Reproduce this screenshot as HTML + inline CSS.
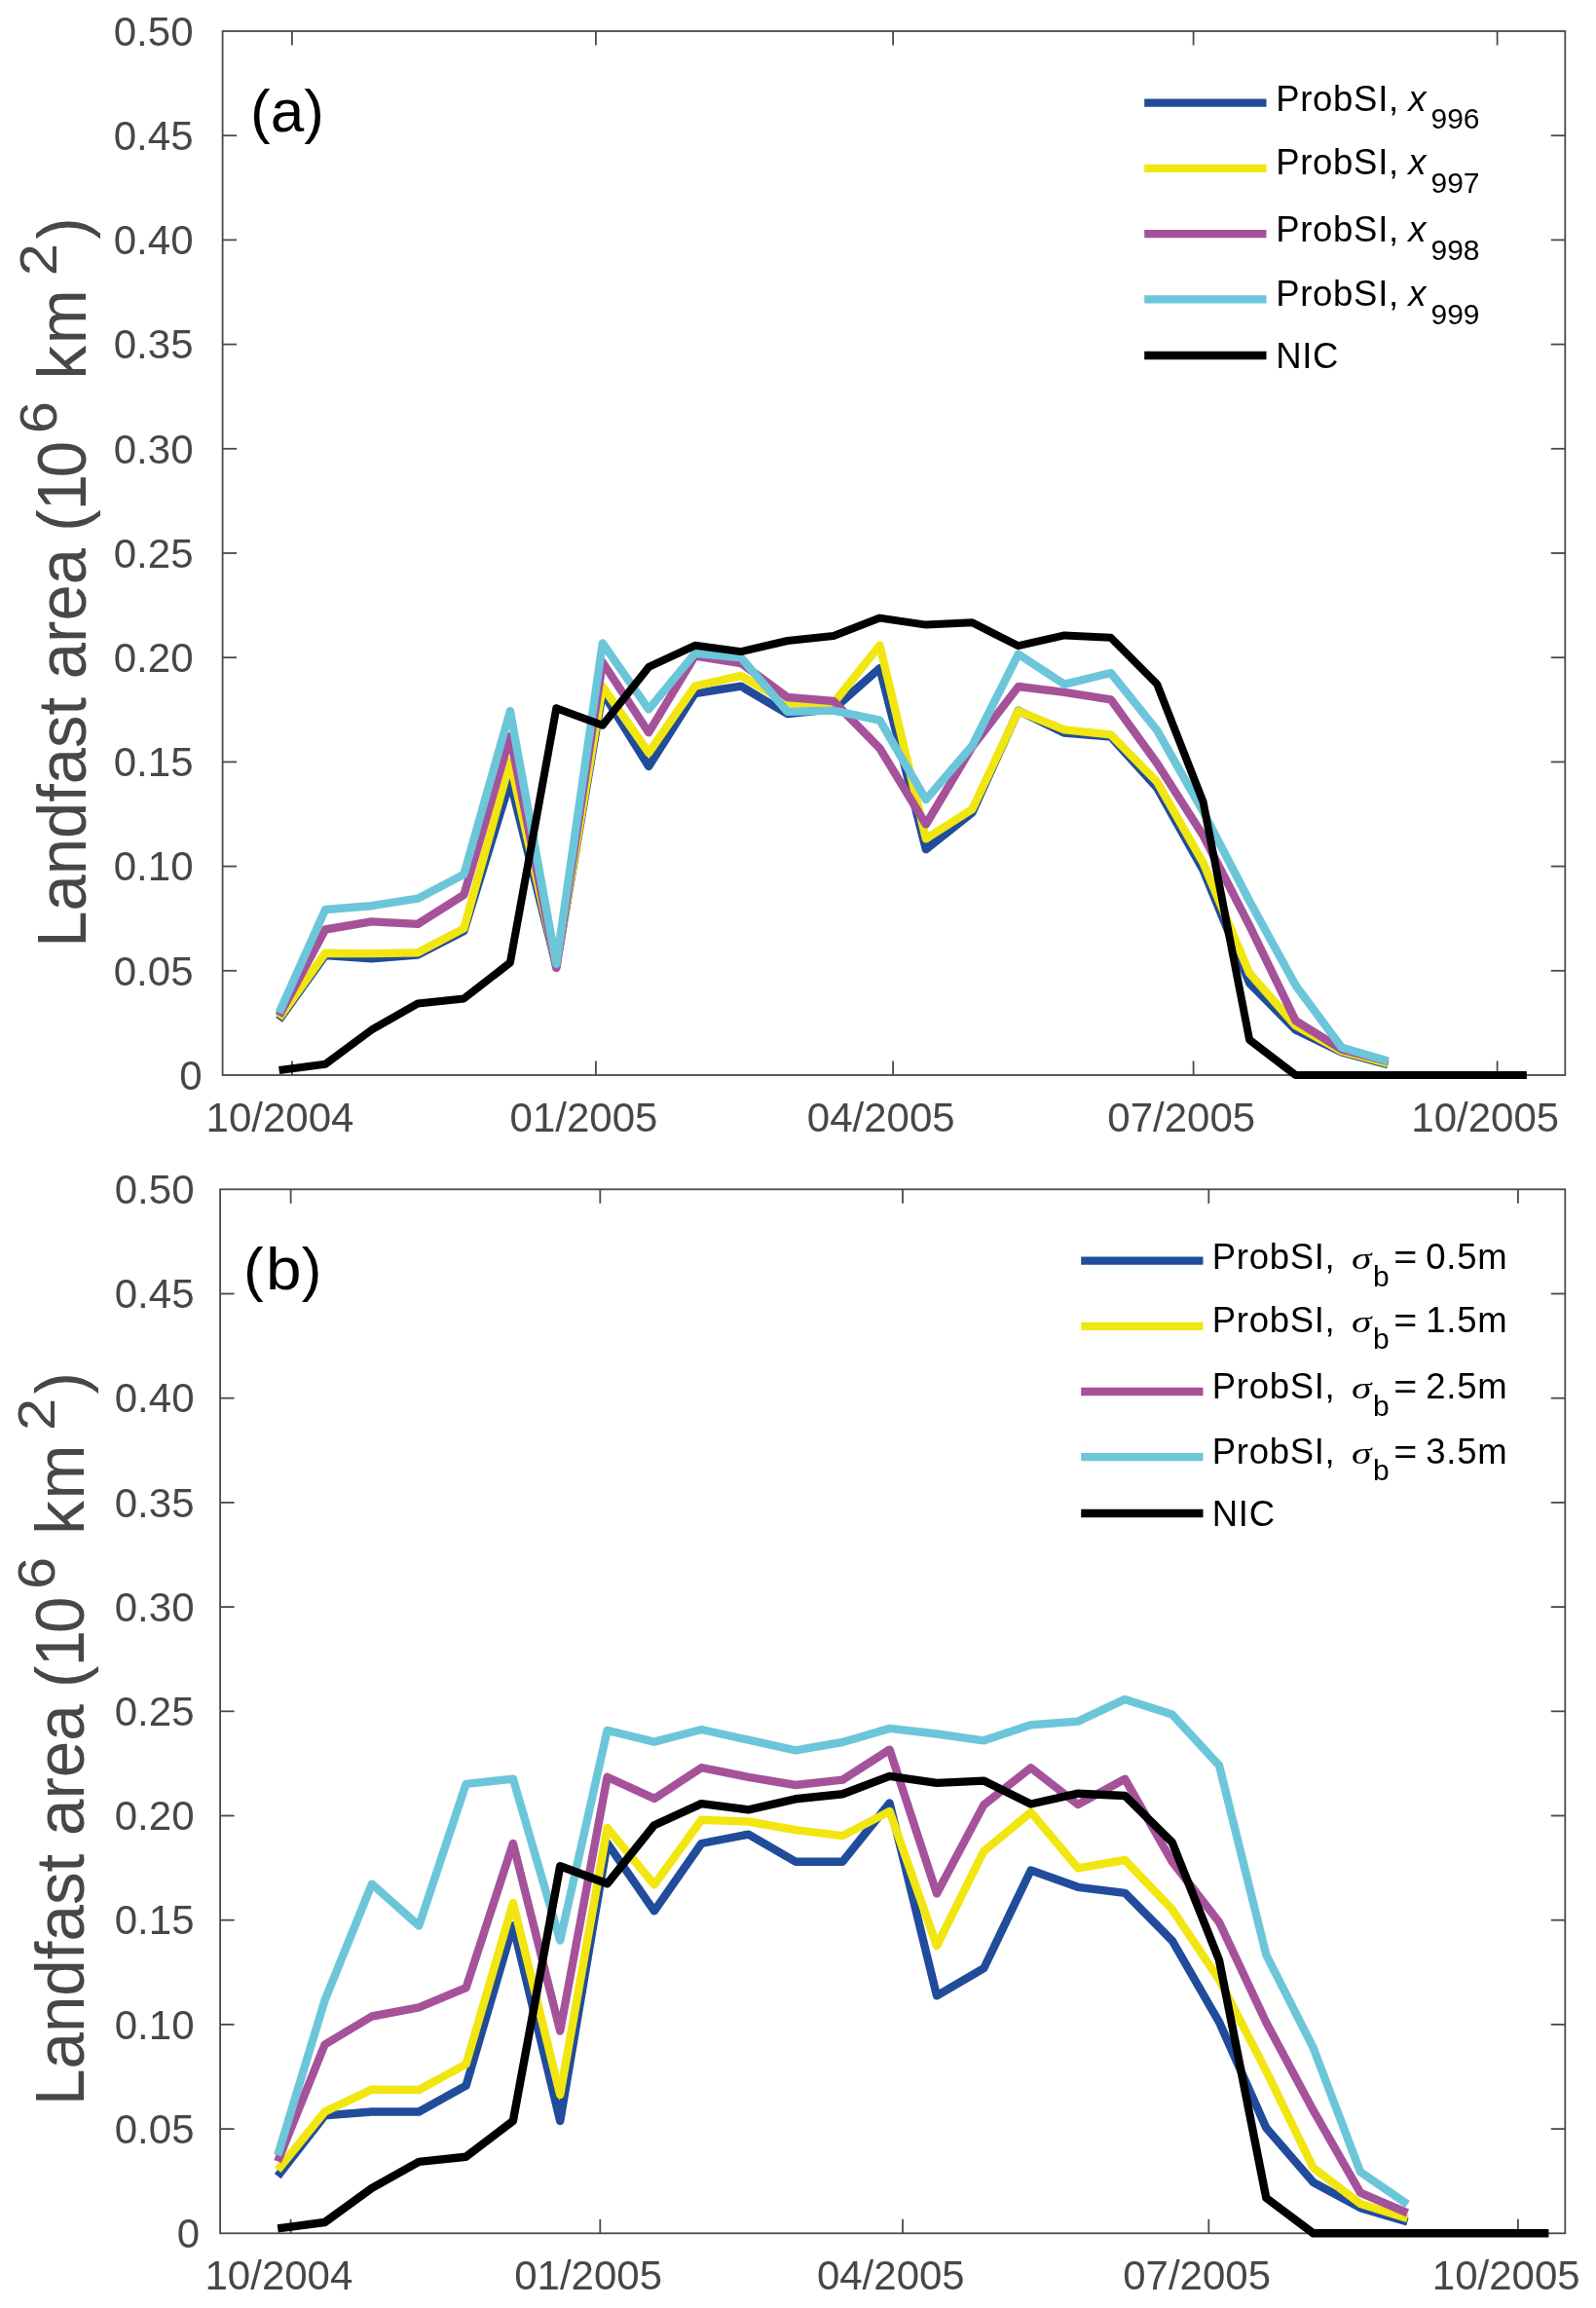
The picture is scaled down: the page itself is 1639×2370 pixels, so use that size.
<!DOCTYPE html>
<html><head><meta charset="utf-8"><title>Landfast area</title>
<style>
html,body{margin:0;padding:0;background:#fff;}
body{width:1639px;height:2370px;overflow:hidden;font-family:"Liberation Sans", sans-serif;}
svg{display:block;will-change:transform;}
</style></head><body>
<svg width="1639" height="2370" viewBox="0 0 1639 2370">
<rect x="0" y="0" width="1639" height="2370" fill="#ffffff"/>
<!-- panel a -->
<g stroke="#4a4a4a" stroke-width="1.8" fill="none">
<rect x="228.6" y="32.0" width="1378.7" height="1072.0"/>
<line x1="299.9" y1="1104.0" x2="299.9" y2="1089.5"/>
<line x1="299.9" y1="32.0" x2="299.9" y2="46.5"/>
<line x1="611.9" y1="1104.0" x2="611.9" y2="1089.5"/>
<line x1="611.9" y1="32.0" x2="611.9" y2="46.5"/>
<line x1="917.1" y1="1104.0" x2="917.1" y2="1089.5"/>
<line x1="917.1" y1="32.0" x2="917.1" y2="46.5"/>
<line x1="1225.6" y1="1104.0" x2="1225.6" y2="1089.5"/>
<line x1="1225.6" y1="32.0" x2="1225.6" y2="46.5"/>
<line x1="1537.6" y1="1104.0" x2="1537.6" y2="1089.5"/>
<line x1="1537.6" y1="32.0" x2="1537.6" y2="46.5"/>
<line x1="228.6" y1="996.8" x2="243.1" y2="996.8"/>
<line x1="1607.3" y1="996.8" x2="1592.8" y2="996.8"/>
<line x1="228.6" y1="889.6" x2="243.1" y2="889.6"/>
<line x1="1607.3" y1="889.6" x2="1592.8" y2="889.6"/>
<line x1="228.6" y1="782.4" x2="243.1" y2="782.4"/>
<line x1="1607.3" y1="782.4" x2="1592.8" y2="782.4"/>
<line x1="228.6" y1="675.2" x2="243.1" y2="675.2"/>
<line x1="1607.3" y1="675.2" x2="1592.8" y2="675.2"/>
<line x1="228.6" y1="568.0" x2="243.1" y2="568.0"/>
<line x1="1607.3" y1="568.0" x2="1592.8" y2="568.0"/>
<line x1="228.6" y1="460.8" x2="243.1" y2="460.8"/>
<line x1="1607.3" y1="460.8" x2="1592.8" y2="460.8"/>
<line x1="228.6" y1="353.6" x2="243.1" y2="353.6"/>
<line x1="1607.3" y1="353.6" x2="1592.8" y2="353.6"/>
<line x1="228.6" y1="246.4" x2="243.1" y2="246.4"/>
<line x1="1607.3" y1="246.4" x2="1592.8" y2="246.4"/>
<line x1="228.6" y1="139.2" x2="243.1" y2="139.2"/>
<line x1="1607.3" y1="139.2" x2="1592.8" y2="139.2"/>
</g>
<polyline points="286.6,1047.3 334.1,981.0 381.5,984.3 429.0,980.5 476.4,956.0 523.9,802.0 571.3,992.3 618.8,711.0 666.2,787.0 713.7,712.0 761.1,704.7 808.6,733.0 856.0,728.0 903.5,686.1 950.9,872.1 998.4,834.5 1045.8,729.7 1093.2,752.6 1140.7,756.5 1188.2,809.0 1235.6,893.5 1283.1,1009.5 1330.5,1057.5 1378.0,1080.5 1425.4,1093.3" fill="none" stroke="#214c9c" stroke-width="8.4" stroke-linejoin="round" stroke-linecap="butt"/>
<polyline points="286.6,1045.4 334.1,978.7 381.5,979.1 429.0,978.2 476.4,953.4 523.9,782.0 571.3,992.0 618.8,705.0 666.2,773.0 713.7,704.7 761.1,693.9 808.6,722.1 856.0,722.0 903.5,662.7 950.9,861.3 998.4,831.0 1045.8,730.1 1093.2,749.4 1140.7,754.4 1188.2,802.9 1235.6,886.0 1283.1,999.3 1330.5,1053.2 1378.0,1079.5 1425.4,1092.0" fill="none" stroke="#f1e60f" stroke-width="8.4" stroke-linejoin="round" stroke-linecap="butt"/>
<polyline points="286.6,1043.0 334.1,954.5 381.5,946.4 429.0,948.9 476.4,918.9 523.9,756.0 571.3,994.1 618.8,680.0 666.2,752.2 713.7,673.6 761.1,681.0 808.6,716.0 856.0,720.0 903.5,768.5 950.9,846.5 998.4,766.8 1045.8,705.0 1093.2,710.8 1140.7,718.3 1188.2,783.7 1235.6,858.0 1283.1,950.4 1330.5,1048.1 1378.0,1077.6 1425.4,1090.0" fill="none" stroke="#a5529b" stroke-width="8.4" stroke-linejoin="round" stroke-linecap="butt"/>
<polyline points="286.6,1040.0 334.1,934.0 381.5,930.2 429.0,922.7 476.4,897.9 523.9,730.1 571.3,989.8 618.8,660.5 666.2,728.4 713.7,670.9 761.1,675.4 808.6,730.7 856.0,729.6 903.5,739.7 950.9,821.1 998.4,765.7 1045.8,671.7 1093.2,702.7 1140.7,691.0 1188.2,749.9 1235.6,833.4 1283.1,925.3 1330.5,1011.8 1378.0,1075.7 1425.4,1089.5" fill="none" stroke="#6cc6da" stroke-width="8.4" stroke-linejoin="round" stroke-linecap="butt"/>
<polyline points="286.6,1099.0 334.1,1092.7 381.5,1057.6 429.0,1030.6 476.4,1025.4 523.9,988.5 571.3,727.3 618.8,744.7 666.2,684.9 713.7,662.8 761.1,669.1 808.6,658.0 856.0,652.9 903.5,634.6 950.9,641.6 998.4,639.3 1045.8,663.2 1093.2,652.4 1140.7,654.7 1188.2,702.5 1235.6,823.5 1283.1,1067.7 1330.5,1104.0 1378.0,1104.0 1425.4,1104.0 1472.8,1104.0 1520.3,1104.0 1567.8,1104.0" fill="none" stroke="#000000" stroke-width="8.0" stroke-linejoin="round" stroke-linecap="butt"/>
<g font-family='"Liberation Sans", sans-serif' fill="#474747">
<text transform="translate(207.5,1118.7) scale(1.0,1.0)" font-size="42" text-anchor="end">0</text>
<text transform="translate(198.5,1011.5) scale(1.0,1.0)" font-size="42" text-anchor="end">0.05</text>
<text transform="translate(198.5,904.3) scale(1.0,1.0)" font-size="42" text-anchor="end">0.10</text>
<text transform="translate(198.5,797.1) scale(1.0,1.0)" font-size="42" text-anchor="end">0.15</text>
<text transform="translate(198.5,689.9) scale(1.0,1.0)" font-size="42" text-anchor="end">0.20</text>
<text transform="translate(198.5,582.7) scale(1.0,1.0)" font-size="42" text-anchor="end">0.25</text>
<text transform="translate(198.5,475.5) scale(1.0,1.0)" font-size="42" text-anchor="end">0.30</text>
<text transform="translate(198.5,368.3) scale(1.0,1.0)" font-size="42" text-anchor="end">0.35</text>
<text transform="translate(198.5,261.1) scale(1.0,1.0)" font-size="42" text-anchor="end">0.40</text>
<text transform="translate(198.5,153.9) scale(1.0,1.0)" font-size="42" text-anchor="end">0.45</text>
<text transform="translate(198.5,46.7) scale(1.0,1.0)" font-size="42" text-anchor="end">0.50</text>
<text transform="translate(287.5,1162.1) scale(1.0,1.0)" font-size="42" text-anchor="middle">10/2004</text>
<text transform="translate(599.5,1162.1) scale(1.0,1.0)" font-size="42" text-anchor="middle">01/2005</text>
<text transform="translate(904.7,1162.1) scale(1.0,1.0)" font-size="42" text-anchor="middle">04/2005</text>
<text transform="translate(1213.2,1162.1) scale(1.0,1.0)" font-size="42" text-anchor="middle">07/2005</text>
<text transform="translate(1525.2,1162.1) scale(1.0,1.0)" font-size="42" text-anchor="middle">10/2005</text>
</g>
<g transform="translate(88.0,972.8) rotate(-90)" font-family='"Liberation Sans", sans-serif' fill="#474747">
<text transform="translate(0.0,0.0) scale(1.0,1.04)" font-size="67">Landfast area</text>
<text transform="translate(427.0,0.0) scale(1.0,1.04)" font-size="67">(</text>
<text transform="translate(448.5,0.0) scale(1.0,1.04)" font-size="67">1</text>
<text transform="translate(482.5,0.0) scale(1.0,1.04)" font-size="67">0</text>
<text transform="translate(527.5,-30.2) scale(1.15,1.02)" font-size="52">6</text>
<text transform="translate(583.0,0.0) scale(1.04,1.04)" font-size="67">k</text>
<text transform="translate(619.5,0.0) scale(1.0,1.04)" font-size="67">m</text>
<text transform="translate(689.5,-30.2) scale(1.15,1.02)" font-size="52">2</text>
<text transform="translate(727.0,0.0) scale(1.0,1.04)" font-size="67">)</text>
</g>
<g font-family='"Liberation Sans", sans-serif' fill="#000"><text transform="translate(257.0,135.0) scale(1.0,1.0)" font-size="62">(a)</text></g>
<g font-family='"Liberation Sans", sans-serif' font-size="36.5" letter-spacing="0.7" fill="#000">
<line x1="1175.2" y1="105.7" x2="1300.5" y2="105.7" stroke="#214c9c" stroke-width="8.3"/>
<text x="1310.2" y="113.5">ProbSI,</text>
<text x="1446.3" y="113.5" font-style="italic">x</text>
<text x="1469.5" y="132.4" font-size="30" letter-spacing="0">996</text>
<line x1="1175.2" y1="172.9" x2="1300.5" y2="172.9" stroke="#f1e60f" stroke-width="8.3"/>
<text x="1310.2" y="179.1">ProbSI,</text>
<text x="1446.3" y="179.1" font-style="italic">x</text>
<text x="1469.5" y="198.0" font-size="30" letter-spacing="0">997</text>
<line x1="1175.2" y1="240.1" x2="1300.5" y2="240.1" stroke="#a5529b" stroke-width="8.3"/>
<text x="1310.2" y="247.7">ProbSI,</text>
<text x="1446.3" y="247.7" font-style="italic">x</text>
<text x="1469.5" y="266.6" font-size="30" letter-spacing="0">998</text>
<line x1="1175.2" y1="307.3" x2="1300.5" y2="307.3" stroke="#6cc6da" stroke-width="8.3"/>
<text x="1310.2" y="313.6">ProbSI,</text>
<text x="1446.3" y="313.6" font-style="italic">x</text>
<text x="1469.5" y="332.5" font-size="30" letter-spacing="0">999</text>
<line x1="1175.2" y1="365" x2="1300.5" y2="365" stroke="#000000" stroke-width="8.3"/>
<text x="1310.2" y="378.3">NIC</text>
</g>
<!-- panel b -->
<g stroke="#4a4a4a" stroke-width="1.8" fill="none">
<rect x="226.1" y="1221.3" width="1381.2" height="1072.0"/>
<line x1="298.6" y1="2293.3" x2="298.6" y2="2278.8"/>
<line x1="298.6" y1="1221.3" x2="298.6" y2="1235.8"/>
<line x1="616.3" y1="2293.3" x2="616.3" y2="2278.8"/>
<line x1="616.3" y1="1221.3" x2="616.3" y2="1235.8"/>
<line x1="927.0" y1="2293.3" x2="927.0" y2="2278.8"/>
<line x1="927.0" y1="1221.3" x2="927.0" y2="1235.8"/>
<line x1="1241.3" y1="2293.3" x2="1241.3" y2="2278.8"/>
<line x1="1241.3" y1="1221.3" x2="1241.3" y2="1235.8"/>
<line x1="1558.9" y1="2293.3" x2="1558.9" y2="2278.8"/>
<line x1="1558.9" y1="1221.3" x2="1558.9" y2="1235.8"/>
<line x1="226.1" y1="2186.1" x2="240.6" y2="2186.1"/>
<line x1="1607.3" y1="2186.1" x2="1592.8" y2="2186.1"/>
<line x1="226.1" y1="2078.9" x2="240.6" y2="2078.9"/>
<line x1="1607.3" y1="2078.9" x2="1592.8" y2="2078.9"/>
<line x1="226.1" y1="1971.7" x2="240.6" y2="1971.7"/>
<line x1="1607.3" y1="1971.7" x2="1592.8" y2="1971.7"/>
<line x1="226.1" y1="1864.5" x2="240.6" y2="1864.5"/>
<line x1="1607.3" y1="1864.5" x2="1592.8" y2="1864.5"/>
<line x1="226.1" y1="1757.3" x2="240.6" y2="1757.3"/>
<line x1="1607.3" y1="1757.3" x2="1592.8" y2="1757.3"/>
<line x1="226.1" y1="1650.1" x2="240.6" y2="1650.1"/>
<line x1="1607.3" y1="1650.1" x2="1592.8" y2="1650.1"/>
<line x1="226.1" y1="1542.9" x2="240.6" y2="1542.9"/>
<line x1="1607.3" y1="1542.9" x2="1592.8" y2="1542.9"/>
<line x1="226.1" y1="1435.7" x2="240.6" y2="1435.7"/>
<line x1="1607.3" y1="1435.7" x2="1592.8" y2="1435.7"/>
<line x1="226.1" y1="1328.5" x2="240.6" y2="1328.5"/>
<line x1="1607.3" y1="1328.5" x2="1592.8" y2="1328.5"/>
</g>
<polyline points="285.2,2234.6 333.5,2172.4 381.9,2168.5 430.2,2168.5 478.6,2141.7 526.9,1977.1 575.2,2178.0 623.6,1892.7 671.9,1962.3 720.3,1893.0 768.6,1883.6 816.9,1911.7 865.3,1911.7 913.6,1851.5 962.0,2049.3 1010.3,2021.2 1058.6,1920.5 1107.0,1937.8 1155.3,1943.8 1203.7,1992.7 1252.0,2076.3 1300.3,2185.0 1348.7,2241.0 1397.0,2267.1 1445.4,2281.5" fill="none" stroke="#214c9c" stroke-width="8.4" stroke-linejoin="round" stroke-linecap="butt"/>
<polyline points="285.2,2228.3 333.5,2168.5 381.9,2145.6 430.2,2146.0 478.6,2119.6 526.9,1954.0 575.2,2151.0 623.6,1877.0 671.9,1935.3 720.3,1868.8 768.6,1870.5 816.9,1879.1 865.3,1885.1 913.6,1859.9 962.0,1998.1 1010.3,1900.9 1058.6,1860.9 1107.0,1918.3 1155.3,1910.0 1203.7,1960.6 1252.0,2032.8 1300.3,2126.7 1348.7,2226.2 1397.0,2262.9 1445.4,2277.9" fill="none" stroke="#f1e60f" stroke-width="8.4" stroke-linejoin="round" stroke-linecap="butt"/>
<polyline points="285.2,2219.5 333.5,2099.5 381.9,2070.5 430.2,2061.3 478.6,2041.2 526.9,1892.9 575.2,2085.6 623.6,1824.7 671.9,1846.9 720.3,1815.2 768.6,1824.8 816.9,1833.0 865.3,1827.6 913.6,1796.6 962.0,1944.5 1010.3,1853.4 1058.6,1815.3 1107.0,1853.0 1155.3,1826.8 1203.7,1911.7 1252.0,1973.8 1300.3,2076.8 1348.7,2167.2 1397.0,2251.7 1445.4,2272.4" fill="none" stroke="#a5529b" stroke-width="8.4" stroke-linejoin="round" stroke-linecap="butt"/>
<polyline points="285.2,2213.3 333.5,2054.2 381.9,1934.7 430.2,1977.5 478.6,1831.9 526.9,1826.6 575.2,1992.5 623.6,1776.9 671.9,1788.6 720.3,1776.0 768.6,1786.7 816.9,1797.4 865.3,1789.0 913.6,1774.9 962.0,1780.5 1010.3,1787.3 1058.6,1771.2 1107.0,1767.6 1155.3,1744.9 1203.7,1760.5 1252.0,1812.8 1300.3,2007.3 1348.7,2102.9 1397.0,2230.3 1445.4,2263.5" fill="none" stroke="#6cc6da" stroke-width="8.4" stroke-linejoin="round" stroke-linecap="butt"/>
<polyline points="285.2,2288.3 333.5,2282.0 381.9,2246.9 430.2,2219.9 478.6,2214.7 526.9,2177.8 575.2,1916.3 623.6,1934.3 671.9,1874.2 720.3,1852.1 768.6,1858.4 816.9,1847.3 865.3,1842.2 913.6,1823.9 962.0,1830.9 1010.3,1828.6 1058.6,1852.5 1107.0,1841.7 1155.3,1844.0 1203.7,1891.8 1252.0,2012.8 1300.3,2257.0 1348.7,2293.3 1397.0,2293.3 1445.4,2293.3 1493.7,2293.3 1542.0,2293.3 1590.4,2293.3" fill="none" stroke="#000000" stroke-width="8.4" stroke-linejoin="round" stroke-linecap="butt"/>
<g font-family='"Liberation Sans", sans-serif' fill="#474747">
<text transform="translate(205.0,2308.0) scale(1.0,1.0)" font-size="42" text-anchor="end">0</text>
<text transform="translate(199.5,2200.8) scale(1.0,1.0)" font-size="42" text-anchor="end">0.05</text>
<text transform="translate(199.5,2093.6) scale(1.0,1.0)" font-size="42" text-anchor="end">0.10</text>
<text transform="translate(199.5,1986.4) scale(1.0,1.0)" font-size="42" text-anchor="end">0.15</text>
<text transform="translate(199.5,1879.2) scale(1.0,1.0)" font-size="42" text-anchor="end">0.20</text>
<text transform="translate(199.5,1772.0) scale(1.0,1.0)" font-size="42" text-anchor="end">0.25</text>
<text transform="translate(199.5,1664.8) scale(1.0,1.0)" font-size="42" text-anchor="end">0.30</text>
<text transform="translate(199.5,1557.6) scale(1.0,1.0)" font-size="42" text-anchor="end">0.35</text>
<text transform="translate(199.5,1450.4) scale(1.0,1.0)" font-size="42" text-anchor="end">0.40</text>
<text transform="translate(199.5,1343.2) scale(1.0,1.0)" font-size="42" text-anchor="end">0.45</text>
<text transform="translate(199.5,1236.0) scale(1.0,1.0)" font-size="42" text-anchor="end">0.50</text>
<text transform="translate(286.4,2351.4) scale(1.0,1.0)" font-size="42" text-anchor="middle">10/2004</text>
<text transform="translate(604.1,2351.4) scale(1.0,1.0)" font-size="42" text-anchor="middle">01/2005</text>
<text transform="translate(914.8,2351.4) scale(1.0,1.0)" font-size="42" text-anchor="middle">04/2005</text>
<text transform="translate(1229.1,2351.4) scale(1.0,1.0)" font-size="42" text-anchor="middle">07/2005</text>
<text transform="translate(1546.7,2351.4) scale(1.0,1.0)" font-size="42" text-anchor="middle">10/2005</text>
</g>
<g transform="translate(86.0,2162.0) rotate(-90)" font-family='"Liberation Sans", sans-serif' fill="#474747">
<text transform="translate(0.0,0.0) scale(1.005,1.04)" font-size="67">Landfast area</text>
<text transform="translate(429.1,0.0) scale(1.0,1.04)" font-size="67">(</text>
<text transform="translate(450.7,0.0) scale(1.0,1.04)" font-size="67">1</text>
<text transform="translate(484.9,0.0) scale(1.0,1.04)" font-size="67">0</text>
<text transform="translate(530.1,-30.2) scale(1.15,1.02)" font-size="52">6</text>
<text transform="translate(585.9,0.0) scale(1.04,1.04)" font-size="67">k</text>
<text transform="translate(622.6,0.0) scale(1.0,1.04)" font-size="67">m</text>
<text transform="translate(692.9,-30.2) scale(1.15,1.02)" font-size="52">2</text>
<text transform="translate(730.6,0.0) scale(1.0,1.04)" font-size="67">)</text>
</g>
<g font-family='"Liberation Sans", sans-serif' fill="#000"><text transform="translate(250.0,1323.9) scale(1.0,1.0)" font-size="62">(</text><text transform="translate(273.0,1323.9) scale(1.06,1.0)" font-size="62">b</text><text transform="translate(309.7,1323.9) scale(1.0,1.0)" font-size="62">)</text></g>
<g font-family='"Liberation Sans", sans-serif' font-size="36.5" letter-spacing="0.7" fill="#000">
<line x1="1110.2" y1="1294.6" x2="1235.5" y2="1294.6" stroke="#214c9c" stroke-width="8.3"/>
<text x="1244.8" y="1303.0">ProbSI,</text>
<text transform="translate(1388,1303.0) scale(1.12,0.86)" font-family='"Liberation Serif", serif' font-style="italic" font-size="37" letter-spacing="0">σ</text>
<text x="1410" y="1320.8" font-size="30" letter-spacing="0">b</text>
<text transform="translate(1431.3,1303.0) scale(1.13,1)">=</text>
<text x="1464.3" y="1303.0">0.5m</text>
<line x1="1110.2" y1="1361.8" x2="1235.5" y2="1361.8" stroke="#f1e60f" stroke-width="8.3"/>
<text x="1244.8" y="1367.5">ProbSI,</text>
<text transform="translate(1388,1367.5) scale(1.12,0.86)" font-family='"Liberation Serif", serif' font-style="italic" font-size="37" letter-spacing="0">σ</text>
<text x="1410" y="1385.3" font-size="30" letter-spacing="0">b</text>
<text transform="translate(1431.3,1367.5) scale(1.13,1)">=</text>
<text x="1464.3" y="1367.5">1.5m</text>
<line x1="1110.2" y1="1429.0" x2="1235.5" y2="1429.0" stroke="#a5529b" stroke-width="8.3"/>
<text x="1244.8" y="1436.2">ProbSI,</text>
<text transform="translate(1388,1436.2) scale(1.12,0.86)" font-family='"Liberation Serif", serif' font-style="italic" font-size="37" letter-spacing="0">σ</text>
<text x="1410" y="1454.0" font-size="30" letter-spacing="0">b</text>
<text transform="translate(1431.3,1436.2) scale(1.13,1)">=</text>
<text x="1464.3" y="1436.2">2.5m</text>
<line x1="1110.2" y1="1496.2" x2="1235.5" y2="1496.2" stroke="#6cc6da" stroke-width="8.3"/>
<text x="1244.8" y="1502.5">ProbSI,</text>
<text transform="translate(1388,1502.5) scale(1.12,0.86)" font-family='"Liberation Serif", serif' font-style="italic" font-size="37" letter-spacing="0">σ</text>
<text x="1410" y="1520.3" font-size="30" letter-spacing="0">b</text>
<text transform="translate(1431.3,1502.5) scale(1.13,1)">=</text>
<text x="1464.3" y="1502.5">3.5m</text>
<line x1="1110.2" y1="1554" x2="1235.5" y2="1554" stroke="#000000" stroke-width="8.3"/>
<text x="1244.8" y="1567.4">NIC</text>
</g>
</svg></body></html>
